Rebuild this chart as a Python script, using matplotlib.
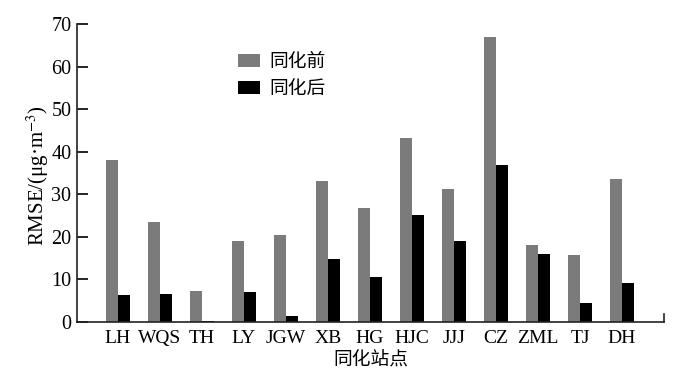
import matplotlib
matplotlib.use("Agg")
import matplotlib.pyplot as plt
import numpy as np

stations = ["LH", "WQS", "TH", "LY", "JGW", "XB", "HG", "HJC", "JJJ", "CZ", "ZML", "TJ", "DH"]
rmse_before = [38.1, 23.5, 7.3, 19.0, 20.4, 33.2, 26.9, 43.3, 31.2, 66.9, 18.1, 15.7, 33.6]
rmse_after = [6.3, 6.7, 0.2, 7.1, 1.4, 14.8, 10.5, 25.2, 19.1, 36.9, 16.0, 4.5, 9.1]

plt.rcParams["font.family"] = ["Liberation Serif", "Noto Sans CJK SC"]
plt.rcParams["mathtext.fontset"] = "stix"

fig = plt.figure(figsize=(6.87, 3.82), dpi=100)
ax = fig.add_axes([0.112, 0.157, 0.8545, 0.78])

x = np.arange(len(stations))
w = 0.286
ax.bar(x - w / 2, rmse_before, w, color="#7b7b7b", label="同化前")
ax.bar(x + w / 2, rmse_after, w, color="#000000", label="同化后")

ax.set_xlim(-0.976, 13.0)
ax.set_ylim(0, 70)
ax.set_yticks(np.arange(0, 71, 10))
ax.set_xticks(x)
ax.set_xticklabels(stations)
ax.tick_params(axis="y", direction="in", length=8, width=1.2, labelsize=14.5, pad=4)
ax.tick_params(axis="x", length=0, labelsize=14, pad=6)

ax.spines["top"].set_visible(False)
ax.spines["right"].set_bounds(0, 1.8)
for s in ["left", "bottom", "right"]:
    ax.spines[s].set_linewidth(1.2)
    ax.spines[s].set_color("#222222")

ax.set_ylabel(r"RMSE/(μg·m$^{-3}$)", fontsize=15)
ax.yaxis.set_label_coords(-0.045, 0.49)
ax.set_xlabel("同化站点", fontsize=13.5, labelpad=3)

ax.legend(loc="upper left", bbox_to_anchor=(0.275, 0.90), frameon=False,
          fontsize=13.5, handlelength=1.17, handleheight=0.67, handletextpad=0.48,
          labelspacing=0.55, borderpad=0, borderaxespad=0)

fig.savefig("out.png", dpi=100)
